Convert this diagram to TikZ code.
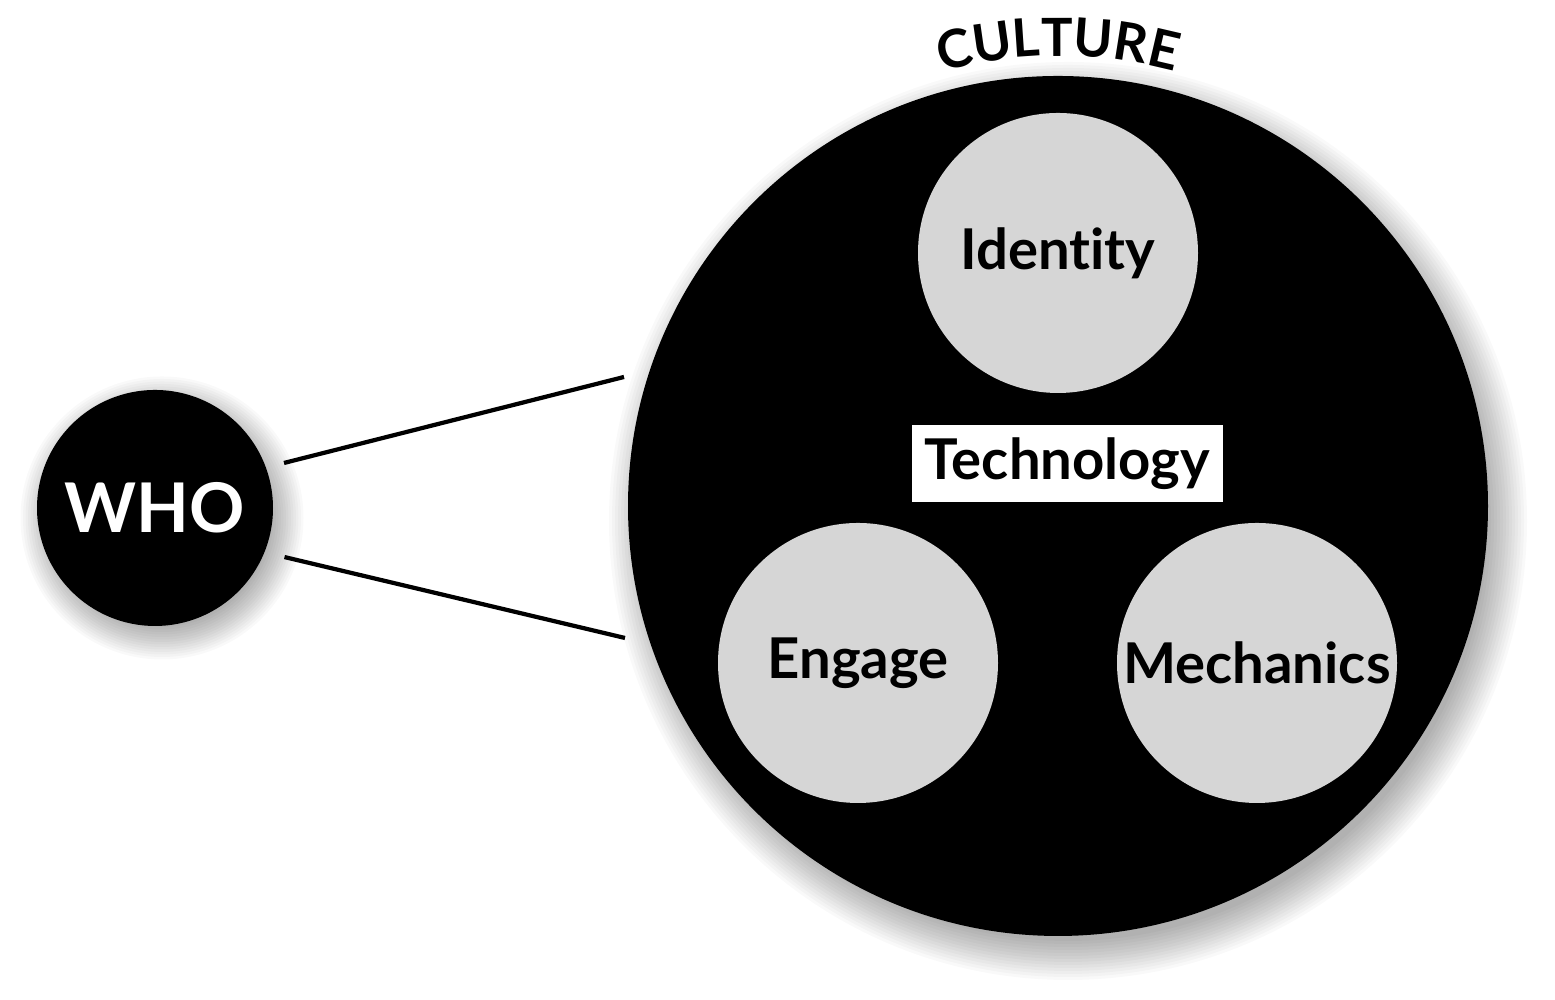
\documentclass[tikz,border=0pt]{standalone}
\usepackage{fontspec}
\setmainfont{Lato}[Ligatures=NoCommon]
\usetikzlibrary{backgrounds,decorations.text}
\definecolor{bubblegray}{HTML}{D6D6D6}

\begin{document}
\begin{tikzpicture}[
    bubble/.style={circle,fill=bubblegray,minimum size=2.8cm,inner sep=0pt,font=\bfseries\fontsize{16}{18}\selectfont},
    link/.style={line width=1.2pt}
  ]
  \useasboundingbox (0,0) rectangle (15.55,10);
  % outer circle and the three parts
  \node[circle,fill=black,minimum size=8.6cm,inner sep=0pt] (culture) at (10.58,4.94) {};
  \node[bubble] (identity) at (10.58,7.47) {Identity};
  \node[bubble] (engage) at (8.58,3.37) {Engage};
  \node[bubble] (mechanics) at (12.57,3.37) {Mechanics};
  \node[fill=white,minimum width=3.11cm,minimum height=0.77cm,inner sep=0pt,font=\bfseries\fontsize{16}{18}\selectfont] (technology) at (10.675,5.365) {Technology};
  \path[decorate,decoration={text along path,text align=center,
      text={|\bfseries\fontsize{15}{17}\selectfont|CULTURE}}]
    (culture.center) ++(110:4.5) arc (110:70:4.5);
  % who
  \node[circle,fill=black,minimum size=2.36cm,inner sep=0pt,text=white,
    font=\bfseries\fontsize{19.5}{22}\selectfont] (who) at (1.55,4.92) {WHO};
  \coordinate (top end) at (6.24,6.23);
  \coordinate (bottom end) at (6.25,3.62);
  \draw[link,shorten <=0.18cm] (who.20) -- (top end);
  \draw[link,shorten <=0.2cm] (who.-22) -- (bottom end);
  % soft shadows
  \begin{pgfonlayer}{background}
    \fill[white] (0,0) rectangle (15.55,10);
    \foreach \k in {1,...,14}{
      \fill[black,opacity=0.025] ([shift={(0.1,-0.15)}]culture.center) circle ({4.30+0.32-\k*0.03});
      \fill[black,opacity=0.025] ([shift={(0.07,-0.1)}]who.center) circle ({1.18+0.26-\k*0.025});
    }
  \end{pgfonlayer}
\end{tikzpicture}
\end{document}
